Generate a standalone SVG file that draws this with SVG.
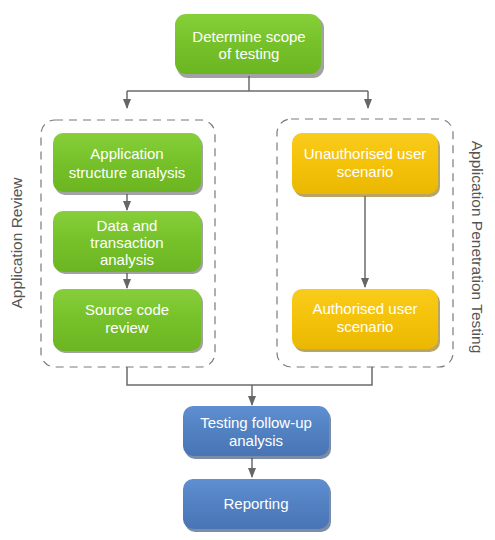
<svg xmlns="http://www.w3.org/2000/svg" width="495" height="540" viewBox="0 0 495 540">
<defs>
<linearGradient id="gG" x1="0" y1="0" x2="0" y2="1"><stop offset="0" stop-color="#86cf3a"/><stop offset="0.5" stop-color="#76c12a"/><stop offset="1" stop-color="#6cb522"/></linearGradient>
<linearGradient id="gY" x1="0" y1="0" x2="0" y2="1"><stop offset="0" stop-color="#f9cb1c"/><stop offset="0.5" stop-color="#f4c209"/><stop offset="1" stop-color="#eab802"/></linearGradient>
<linearGradient id="gB" x1="0" y1="0" x2="0" y2="1"><stop offset="0" stop-color="#5f8fd0"/><stop offset="0.5" stop-color="#5281c2"/><stop offset="1" stop-color="#4874b5"/></linearGradient>
<marker id="arr" markerWidth="10" markerHeight="8" refX="9" refY="4" orient="auto" markerUnits="userSpaceOnUse"><path d="M0,0 L10,4 L0,8 Z" fill="#666"/></marker>
<style>
.sh{fill:#555;opacity:0.55}
.shY{fill:#8a6a00;opacity:0.6}
.shB{fill:#23406a;opacity:0.6}
.t{font-family:"Liberation Sans",Arial,sans-serif;font-size:15px;fill:#fff;text-anchor:middle}
.c{fill:none;stroke:#6b6b6b;stroke-width:1.5}
.d{fill:none;stroke:#7a7a7a;stroke-width:1.2;stroke-dasharray:8,6}
.lbl{font-family:"Liberation Sans",Arial,sans-serif;font-size:15.5px;fill:#555;text-anchor:middle}
</style>
</defs>
<g id="groups">
<rect class="d" x="41" y="120" width="174" height="247" rx="14"/>
<rect class="d" x="277" y="119" width="176" height="248" rx="14"/>
<text class="lbl" transform="translate(22,243) rotate(-90)">Application Review</text>
<text class="lbl" transform="translate(472,247) rotate(90)">Application Penetration Testing</text>
</g>
<g id="connectors">
<path class="c" d="M249,76 V91"/>
<path class="c" d="M127,91 H368"/>
<path class="c" d="M127,91 V108" marker-end="url(#arr)"/>
<path class="c" d="M368,91 V108" marker-end="url(#arr)"/>
<path class="c" d="M127,194 V210" marker-end="url(#arr)"/>
<path class="c" d="M127,273 V288" marker-end="url(#arr)"/>
<path class="c" d="M365,196 V287" marker-end="url(#arr)"/>
<path class="c" d="M127,367 V385 H372 V367"/>
<path class="c" d="M252,385 V405" marker-end="url(#arr)"/>
<path class="c" d="M252,458 V477" marker-end="url(#arr)"/>
</g>
<g id="n1">
<rect class="sh" x="177" y="17" width="147" height="61" rx="11"/>
<rect x="175" y="14" width="146" height="60" rx="11" fill="url(#gG)"/>
<text class="t" x="249" y="42">Determine scope</text>
<text class="t" x="249" y="59">of testing</text>
</g>
<g id="n2">
<rect class="sh" x="55" y="136" width="148" height="59" rx="10"/>
<rect x="53" y="133" width="148" height="59" rx="10" fill="url(#gG)"/>
<text class="t" x="127" y="159">Application</text>
<text class="t" x="127" y="178">structure analysis</text>
</g>
<g id="n3">
<rect class="sh" x="55" y="214" width="148" height="60" rx="10"/>
<rect x="53" y="211" width="148" height="61" rx="10" fill="url(#gG)"/>
<text class="t" x="127" y="231">Data and</text>
<text class="t" x="127" y="248">transaction</text>
<text class="t" x="127" y="265">analysis</text>
</g>
<g id="n4">
<rect class="sh" x="55" y="292" width="148" height="61" rx="10"/>
<rect x="53" y="289" width="148" height="62" rx="10" fill="url(#gG)"/>
<text class="t" x="127" y="315">Source code</text>
<text class="t" x="127" y="333">review</text>
</g>
<g id="n5">
<rect class="shY" x="294" y="136" width="146" height="61" rx="10"/>
<rect x="292" y="133" width="146" height="61" rx="10" fill="url(#gY)"/>
<text class="t" x="365" y="159">Unauthorised user</text>
<text class="t" x="365" y="177">scenario</text>
</g>
<g id="n6">
<rect class="shY" x="294" y="292" width="146" height="60" rx="10"/>
<rect x="292" y="289" width="146" height="60" rx="10" fill="url(#gY)"/>
<text class="t" x="365" y="314">Authorised user</text>
<text class="t" x="365" y="332">scenario</text>
</g>
<g id="n7">
<rect class="shB" x="185" y="409" width="146" height="50" rx="10"/>
<rect x="183" y="406" width="146" height="50" rx="10" fill="url(#gB)"/>
<text class="t" x="256" y="428">Testing follow-up</text>
<text class="t" x="256" y="446">analysis</text>
</g>
<g id="n8">
<rect class="shB" x="185" y="482" width="146" height="50" rx="10"/>
<rect x="183" y="479" width="146" height="50" rx="10" fill="url(#gB)"/>
<text class="t" x="256" y="509">Reporting</text>
</g>
</svg>
